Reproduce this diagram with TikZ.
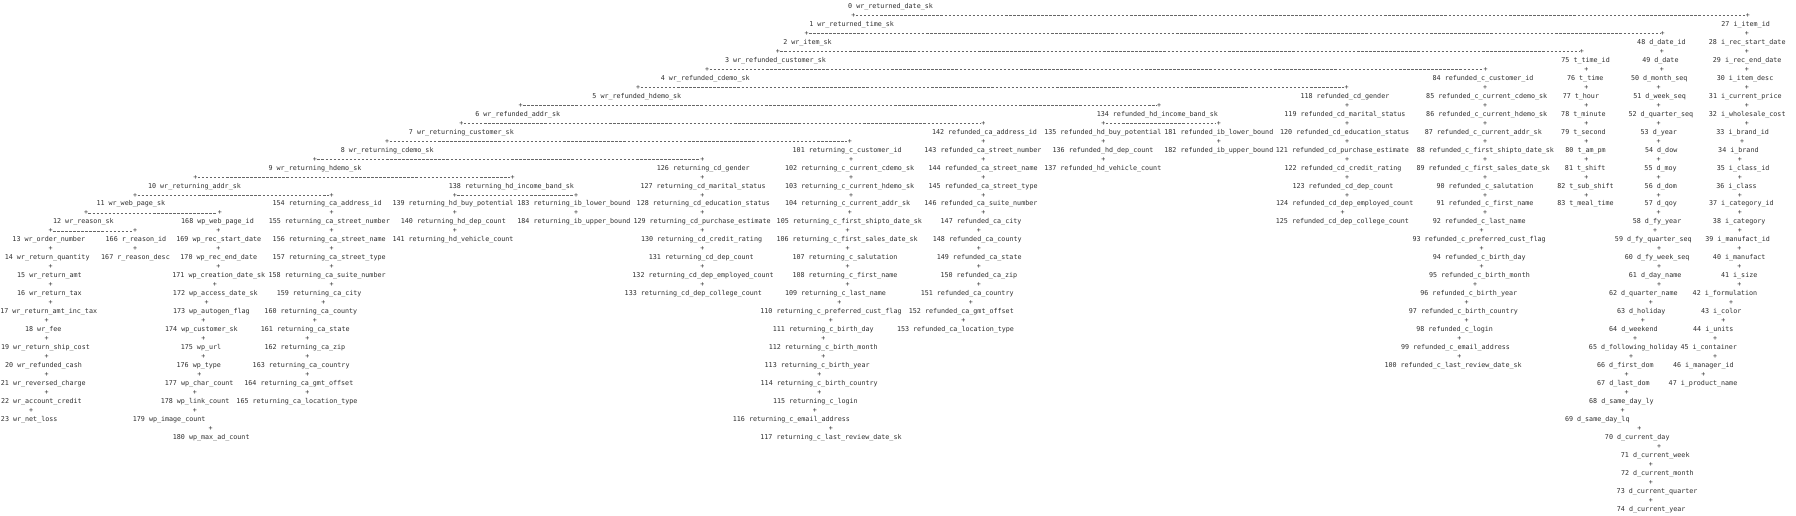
\documentclass[tikz,border=0pt]{standalone}
\usepackage{fontspec}
\setmonofont{DejaVu Sans Mono}
\begin{document}
\begin{tikzpicture}[x=1pt,y=-1pt,
    col/.style={font=\ttfamily\fontsize{5.85}{6}\selectfont, text=black!82, inner sep=0pt, anchor=mid},
    plus/.style={font=\ttfamily\fontsize{5.85}{6}\selectfont, text=black!82, inner sep=0.2pt, anchor=mid},
    link/.style={draw=black!60, line width=0.45pt, dash pattern=on 2.2pt off 1.32pt}]
    \def\rowh{15.68} \def\top{5.2}
    \useasboundingbox (0,0) rectangle (1568,450);
    \foreach \i/\x/\r/\px/\t in {
        0/777.5/0/0/{0 wr\_returned\_date\_sk},
        1/743.5/1/745/{1 wr\_returned\_time\_sk},
        2/705/2/704.2/{2 wr\_item\_sk},
        3/677/3/679.2/{3 wr\_refunded\_customer\_sk},
        4/615.7/4/617.3/{4 wr\_refunded\_cdemo\_sk},
        5/556/5/557.2/{5 wr\_refunded\_hdemo\_sk},
        6/452/6/454.5/{6 wr\_refunded\_addr\_sk},
        7/402.8/7/402.8/{7 wr\_returning\_customer\_sk},
        8/338/8/338/{8 wr\_returning\_cdemo\_sk},
        9/275/9/275/{9 wr\_returning\_hdemo\_sk},
        10/169.8/10/170.5/{10 wr\_returning\_addr\_sk},
        11/114.2/11/117.9/{11 wr\_web\_page\_sk},
        12/72.8/12/75.1/{12 wr\_reason\_sk},
        13/42.6/13/44.2/{13 wr\_order\_number},
        14/41.2/14/44.2/{14 wr\_return\_quantity},
        15/43.2/15/44.2/{15 wr\_return\_amt},
        16/43.2/16/44.2/{16 wr\_return\_tax},
        17/42.5/17/44.2/{17 wr\_return\_amt\_inc\_tax},
        18/37.8/18/40.7/{18 wr\_fee},
        19/39.7/19/40.7/{19 wr\_return\_ship\_cost},
        20/38/20/40.7/{20 wr\_refunded\_cash},
        21/37.8/21/40.7/{21 wr\_reversed\_charge},
        22/36.1/22/40.7/{22 wr\_account\_credit},
        23/25.5/23/27.1/{23 wr\_net\_loss},
        27/1524/1/1526/{27 i\_item\_id},
        28/1525.4/2/1525/{28 i\_rec\_start\_date},
        29/1525.4/3/1525/{29 i\_rec\_end\_date},
        30/1523.5/4/1525/{30 i\_item\_desc},
        31/1523.7/5/1525/{31 i\_current\_price},
        32/1525.4/6/1525/{32 i\_wholesale\_cost},
        33/1521.4/7/1525/{33 i\_brand\_id},
        34/1517.7/8/1521/{34 i\_brand},
        35/1521.8/9/1519/{35 i\_class\_id},
        36/1516/10/1519/{36 i\_class},
        37/1520.3/11/1519/{37 i\_category\_id},
        38/1518.4/12/1519/{38 i\_category},
        39/1517/13/1519/{39 i\_manufact\_id},
        40/1518.4/14/1518.6/{40 i\_manufact},
        41/1518.4/15/1518.6/{41 i\_size},
        42/1506/16/1518.6/{42 i\_formulation},
        43/1502.7/17/1511.3/{43 i\_color},
        44/1495.8/18/1504.6/{44 i\_units},
        45/1491.8/19/1497.3/{45 i\_container},
        46/1487.1/20/1497.3/{46 i\_manager\_id},
        47/1486.8/21/1487.1/{47 i\_product\_name},
        48/1450.5/2/1451.5/{48 d\_date\_id},
        49/1449.6/3/1450.8/{49 d\_date},
        50/1448.6/4/1450.8/{50 d\_month\_seq},
        51/1448.9/5/1448/{51 d\_week\_seq},
        52/1450/6/1448/{52 d\_quarter\_seq},
        53/1448.2/7/1448/{53 d\_year},
        54/1450.3/8/1448/{54 d\_dow},
        55/1449.8/9/1448/{55 d\_moy},
        56/1450/10/1448/{56 d\_dom},
        57/1450/11/1448/{57 d\_qoy},
        58/1446.7/12/1448/{58 d\_fy\_year},
        59/1443.4/13/1445/{59 d\_fy\_quarter\_seq},
        60/1446.8/14/1448.4/{60 d\_fy\_week\_seq},
        61/1445/15/1448.4/{61 d\_day\_name},
        62/1434.7/16/1448.4/{62 d\_quarter\_name},
        63/1432.9/17/1441.2/{63 d\_holiday},
        64/1426/18/1434.2/{64 d\_weekend},
        65/1426/19/1427.5/{65 d\_following\_holiday},
        66/1419/20/1424/{66 d\_first\_dom},
        67/1417.3/21/1420.2/{67 d\_last\_dom},
        68/1415.6/22/1420.2/{68 d\_same\_day\_ly},
        69/1394.5/23/1416.7/{69 d\_same\_day\_lq},
        70/1429.4/24/1431.3/{70 d\_current\_day},
        71/1445.1/25/1448.4/{71 d\_current\_week},
        72/1446.9/26/1441.2/{72 d\_current\_month},
        73/1446.7/27/1441.2/{73 d\_current\_quarter},
        74/1441.6/28/1441.2/{74 d\_current\_year},
        75/1384.3/3/1381/{75 t\_time\_id},
        76/1384/4/1385/{76 t\_time},
        77/1380.2/5/1385/{77 t\_hour},
        78/1382.4/6/1385/{78 t\_minute},
        79/1382.4/7/1385/{79 t\_second},
        80/1384.3/8/1385/{80 t\_am\_pm},
        81/1383.9/9/1385/{81 t\_shift},
        82/1384.2/10/1385/{82 t\_sub\_shift},
        83/1384.2/11/1385/{83 t\_meal\_time},
        84/1294.8/4/1297/{84 refunded\_c\_customer\_id},
        85/1298/5/1296.5/{85 refunded\_c\_current\_cdemo\_sk},
        86/1298/6/1296.5/{86 refunded\_c\_current\_hdemo\_sk},
        87/1295/7/1296.5/{87 refunded\_c\_current\_addr\_sk},
        88/1296.8/8/1296.5/{88 refunded\_c\_first\_shipto\_date\_sk},
        89/1294.8/9/1296.5/{89 refunded\_c\_first\_sales\_date\_sk},
        90/1296.5/10/1296.5/{90 refunded\_c\_salutation},
        91/1296.5/11/1296.5/{91 refunded\_c\_first\_name},
        92/1291.4/12/1296.5/{92 refunded\_c\_last\_name},
        93/1291.4/13/1293.6/{93 refunded\_c\_preferred\_cust\_flag},
        94/1291.4/14/1293.6/{94 refunded\_c\_birth\_day},
        95/1291.6/15/1293.6/{95 refunded\_c\_birth\_month},
        96/1282.3/16/1287.8/{96 refunded\_c\_birth\_year},
        97/1277.6/17/1280.5/{97 refunded\_c\_birth\_country},
        98/1270/18/1280.5/{98 refunded\_c\_login},
        99/1270.7/19/1274.1/{99 refunded\_c\_email\_address},
        100/1268.6/20/1274.1/{100 refunded\_c\_last\_review\_date\_sk},
        101/739.6/8/742/{101 returning\_c\_customer\_id},
        102/741.7/9/743/{102 returning\_c\_current\_cdemo\_sk},
        103/741.7/10/743/{103 returning\_c\_current\_hdemo\_sk},
        104/740/11/743/{104 returning\_c\_current\_addr\_sk},
        105/741.5/12/742/{105 returning\_c\_first\_shipto\_date\_sk},
        106/739.6/13/740/{106 returning\_c\_first\_sales\_date\_sk},
        107/737.7/14/740/{107 returning\_c\_salutation},
        108/737.7/15/740/{108 returning\_c\_first\_name},
        109/729.4/16/740/{109 returning\_c\_last\_name},
        110/725.5/17/732.8/{110 returning\_c\_preferred\_cust\_flag},
        111/718.8/18/725.5/{111 returning\_c\_birth\_day},
        112/718.7/19/718.8/{112 returning\_c\_birth\_month},
        113/713.4/20/718.8/{113 returning\_c\_birth\_year},
        114/715.2/21/715.3/{114 returning\_c\_birth\_country},
        115/711.9/22/715.3/{115 returning\_c\_login},
        116/690.9/23/711.5/{116 returning\_c\_email\_address},
        117/725.5/24/725.5/{117 returning\_c\_last\_review\_date\_sk},
        118/1174.2/5/1175.7/{118 refunded\_cd\_gender},
        119/1174.2/6/1176/{119 refunded\_cd\_marital\_status},
        120/1174/7/1176/{120 refunded\_cd\_education\_status},
        121/1172/8/1176/{121 refunded\_cd\_purchase\_estimate},
        122/1172.5/9/1176/{122 refunded\_cd\_credit\_rating},
        123/1172.5/10/1176/{123 refunded\_cd\_dep\_count},
        124/1174/11/1176/{124 refunded\_cd\_dep\_employed\_count},
        125/1172/12/1172.2/{125 refunded\_cd\_dep\_college\_count},
        126/614/9/613.2/{126 returning\_cd\_gender},
        127/613.8/10/613.2/{127 returning\_cd\_marital\_status},
        128/614/11/613.2/{128 returning\_cd\_education\_status},
        129/613/12/613.2/{129 returning\_cd\_purchase\_estimate},
        130/612.5/13/613.2/{130 returning\_cd\_credit\_rating},
        131/612.3/14/613.2/{131 returning\_cd\_dep\_count},
        132/613.8/15/613.2/{132 returning\_cd\_dep\_employed\_count},
        133/605.3/16/613.2/{133 returning\_cd\_dep\_college\_count},
        134/1010.4/6/1012/{134 refunded\_hd\_income\_band\_sk},
        135/962.8/7/963.3/{135 refunded\_hd\_buy\_potential},
        136/963/8/963.3/{136 refunded\_hd\_dep\_count},
        137/962.8/9/963.3/{137 refunded\_hd\_vehicle\_count},
        138/446.5/10/447.6/{138 returning\_hd\_income\_band\_sk},
        139/395.5/11/397.2/{139 returning\_hd\_buy\_potential},
        140/395.8/12/397.2/{140 returning\_hd\_dep\_count},
        141/395.5/13/397.2/{141 returning\_hd\_vehicle\_count},
        142/859.5/7/858.5/{142 refunded\_ca\_address\_id},
        143/858.1/8/858.5/{143 refunded\_ca\_street\_number},
        144/858.3/9/858.5/{144 refunded\_ca\_street\_name},
        145/858.3/10/858.5/{145 refunded\_ca\_street\_type},
        146/856.4/11/858.5/{146 refunded\_ca\_suite\_number},
        147/856.5/12/858.5/{147 refunded\_ca\_city},
        148/853.2/13/854.7/{148 refunded\_ca\_county},
        149/854.9/14/854.7/{149 refunded\_ca\_state},
        150/854.6/15/854.7/{150 refunded\_ca\_zip},
        151/844.4/16/854.7/{151 refunded\_ca\_country},
        152/839.3/17/847.7/{152 refunded\_ca\_gmt\_offset},
        153/834.2/18/841/{153 refunded\_ca\_location\_type},
        154/285.6/11/289.6/{154 returning\_ca\_address\_id},
        155/287.5/12/289.6/{155 returning\_ca\_street\_number},
        156/287.4/13/289.6/{156 returning\_ca\_street\_name},
        157/287.4/14/289.6/{157 returning\_ca\_street\_type},
        158/285.6/15/289.6/{158 returning\_ca\_suite\_number},
        159/278.6/16/289.6/{159 returning\_ca\_city},
        160/271.4/17/282.3/{160 returning\_ca\_county},
        161/266.5/18/275/{161 returning\_ca\_state},
        162/266.2/19/268.3/{162 returning\_ca\_zip},
        163/262.9/20/268.3/{163 returning\_ca\_country},
        164/260.9/21/268.3/{164 returning\_ca\_gmt\_offset},
        165/259.3/22/268.3/{165 returning\_ca\_location\_type},
        166/118.7/13/117.9/{166 r\_reason\_id},
        167/118.3/14/117.9/{167 r\_reason\_desc},
        168/189.9/12/192/{168 wp\_web\_page\_id},
        169/191/13/190.6/{169 wp\_rec\_start\_date},
        170/191/14/190.6/{170 wp\_rec\_end\_date},
        171/191/15/190.6/{171 wp\_creation\_date\_sk},
        172/188/16/187.7/{172 wp\_access\_date\_sk},
        173/184.5/17/180.4/{173 wp\_autogen\_flag},
        174/175.9/18/177.5/{174 wp\_customer\_sk},
        175/175.5/19/177.5/{175 wp\_url},
        176/173.6/20/177.5/{176 wp\_type},
        177/173.9/21/174/{177 wp\_char\_count},
        178/170.3/22/170.2/{178 wp\_link\_count},
        179/147.7/23/170.2/{179 wp\_image\_count},
        180/184.4/24/183.9/{180 wp\_max\_ad\_count},
        181/1064.1/7/1064.2/{181 refunded\_ib\_lower\_bound},
        182/1064.1/8/1064.2/{182 refunded\_ib\_upper\_bound},
        183/501/11/502.9/{183 returning\_ib\_lower\_bound},
        184/501/12/502.9/{184 returning\_ib\_upper\_bound}}{
        \node[col] (n\i) at (\x,{\top+\rowh*\r}) {\t};
        \ifnum\i>0 \node[plus] (p\i) at (\px,{\top+\rowh*(\r-0.5)}) {+};\fi
    }
    \foreach \a/\b in {1/27, 2/48, 3/75, 4/84, 5/118, 6/134, 7/142, 8/101, 9/126,
        10/138, 11/154, 12/168, 13/166, 135/181, 139/183}
        \draw[link] (p\a) -- (p\b);
\end{tikzpicture}
\end{document}
